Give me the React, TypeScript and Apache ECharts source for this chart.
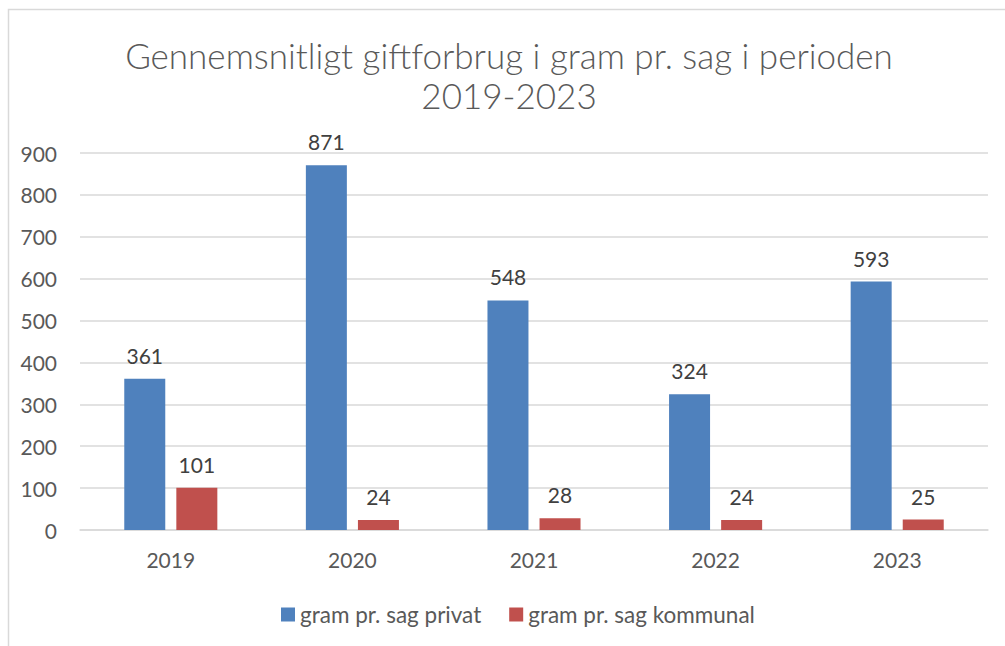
import React, { useEffect, useRef } from "react";
import * as echarts from "echarts";

const years = ["2019", "2020", "2021", "2022", "2023"];
const privat = [361, 871, 548, 324, 593];
const kommunal = [101, 24, 28, 24, 25];
const seriesNames = ["gram pr. sag privat", "gram pr. sag kommunal"];
const titleText = "Gennemsnitligt giftforbrug i gram pr. sag i perioden\n2019-2023";

const FONT = "Lato, 'Liberation Sans', sans-serif";

export default function App() {
  const ref = useRef<HTMLDivElement>(null);
  useEffect(() => {
    if (!ref.current) return;
    const chart = echarts.init(ref.current, undefined, { renderer: "svg" });
    const label = {
      show: true,
      position: "top" as const,
      distance: 13,
      color: "#404040",
      fontSize: 21,
      fontFamily: FONT,
    };
    chart.setOption({
      animation: false,
      backgroundColor: "#ffffff",
      textStyle: { fontFamily: FONT },
      graphic: [
        {
          type: "rect",
          shape: { x: 8.5, y: 9.5, width: 1010, height: 660 },
          style: { fill: "none", stroke: "#d9d9d9", lineWidth: 1.5 },
          silent: true,
          z: -1,
        },
        {
          type: "text",
          x: 509,
          y: 35,
          style: {
            text: titleText,
            fill: "#595959",
            fontSize: 35,
            fontWeight: 300,
            fontFamily: FONT,
            align: "center",
            verticalAlign: "top",
            lineHeight: 40,
          },
        },
      ],
      legend: {
        bottom: 15,
        left: 276,
        itemWidth: 14,
        itemHeight: 14,
        itemGap: 28,
        icon: "rect",
        textStyle: { color: "#595959", fontSize: 22.5, fontFamily: FONT },
        data: seriesNames,
      },
      grid: { left: 80, right: 17, top: 153, bottom: 116, containLabel: false },
      xAxis: {
        type: "category",
        data: years,
        axisLine: { show: true, lineStyle: { color: "#d9d9d9", width: 1.5 } },
        axisTick: { show: false },
        axisLabel: { color: "#595959", fontSize: 21, margin: 19, fontFamily: FONT },
      },
      yAxis: {
        type: "value",
        min: 0,
        max: 900,
        interval: 100,
        axisLine: { show: false },
        axisTick: { show: false },
        axisLabel: { color: "#595959", fontSize: 21, margin: 23, fontFamily: FONT },
        splitLine: { lineStyle: { color: "#d9d9d9", width: 1.5 } },
      },
      series: [
        {
          name: seriesNames[0],
          type: "bar",
          data: privat,
          barWidth: 41,
          barGap: "27%",
          itemStyle: { color: "#4f81bd" },
          label,
        },
        {
          name: seriesNames[1],
          type: "bar",
          data: kommunal,
          barWidth: 41,
          itemStyle: { color: "#c0504d" },
          label,
        },
      ],
    });
    return () => chart.dispose();
  }, []);
  return (
    <div
      ref={ref}
      style={{ position: "absolute", left: 0, top: 0, width: 1005, height: 646 }}
    />
  );
}
